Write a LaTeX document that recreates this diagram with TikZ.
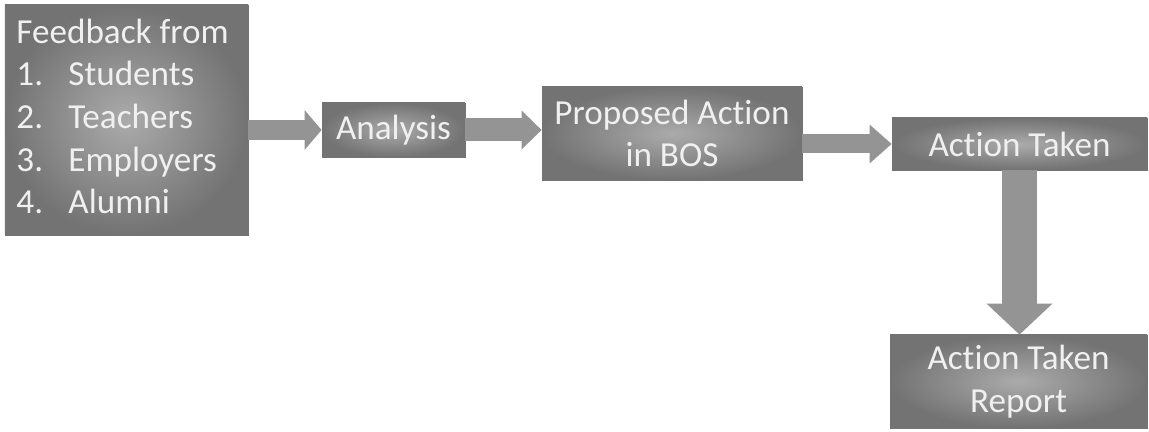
\documentclass[tikz,border=0pt]{standalone}
\usepackage{fontspec}
\setmainfont{Carlito}[Ligatures=NoCommon]
\usetikzlibrary{positioning,arrows.meta}
\newcommand{\actw}{Ac\kern0pt tion}

\begin{document}
\begin{tikzpicture}[
  box/.style={draw=black!55,line width=0.5pt,inner color=black!33,outer color=black!55,
    text=black!6,font=\fontsize{20}{24.2}\selectfont,align=center,inner sep=2pt},
  flow/.style={draw=black!42}
]
\useasboundingbox (0,0) rectangle (22.98,-8.64);

\node (fb)[box,minimum width=4.86cm,minimum height=4.6cm] at (2.53,-2.4){%
	\begin{tabular}{@{}p{1.04cm}@{}l@{}}
	\multicolumn{2}{@{}l@{}}{Feedback from}\\
	1. & Students \\
	2. & Teachers \\
	3. & Employers \\
	4. & Alumni \\
	\end{tabular}
};
\node (an)[box,minimum width=2.86cm,minimum height=1.08cm] at (7.87,-2.6){Analysis};
\node (pr)[box,minimum width=5.2cm,minimum height=1.86cm] at (13.44,-2.67){Proposed \actw\\in BOS};
\node (at)[box,minimum width=5.1cm,minimum height=1.04cm] at (20.39,-2.88){\actw{} Taken};
\node (rp)[box,minimum width=5.14cm,minimum height=1.86cm] at (20.37,-7.63){\actw{} Taken\\Report};

% draw the connections
\draw[flow,line width=0.4cm,-{Triangle[width=0.8cm,length=0.34cm,line width=0pt]}] (fb.east |- an.west)--(an.west);
\draw[flow,line width=0.46cm,-{Triangle[width=0.78cm,length=0.4cm,line width=0pt]}] (an.east)--(pr.west |- an.east);
\draw[flow,line width=0.38cm,-{Triangle[width=0.78cm,length=0.44cm,line width=0pt]}] (pr.east |- at.west)--(at.west);
\draw[flow,line width=0.7cm,-{Triangle[width=1.32cm,length=0.62cm,line width=0pt]}] (at.south)--(at.south |- rp.north);
\end{tikzpicture}
\end{document}
